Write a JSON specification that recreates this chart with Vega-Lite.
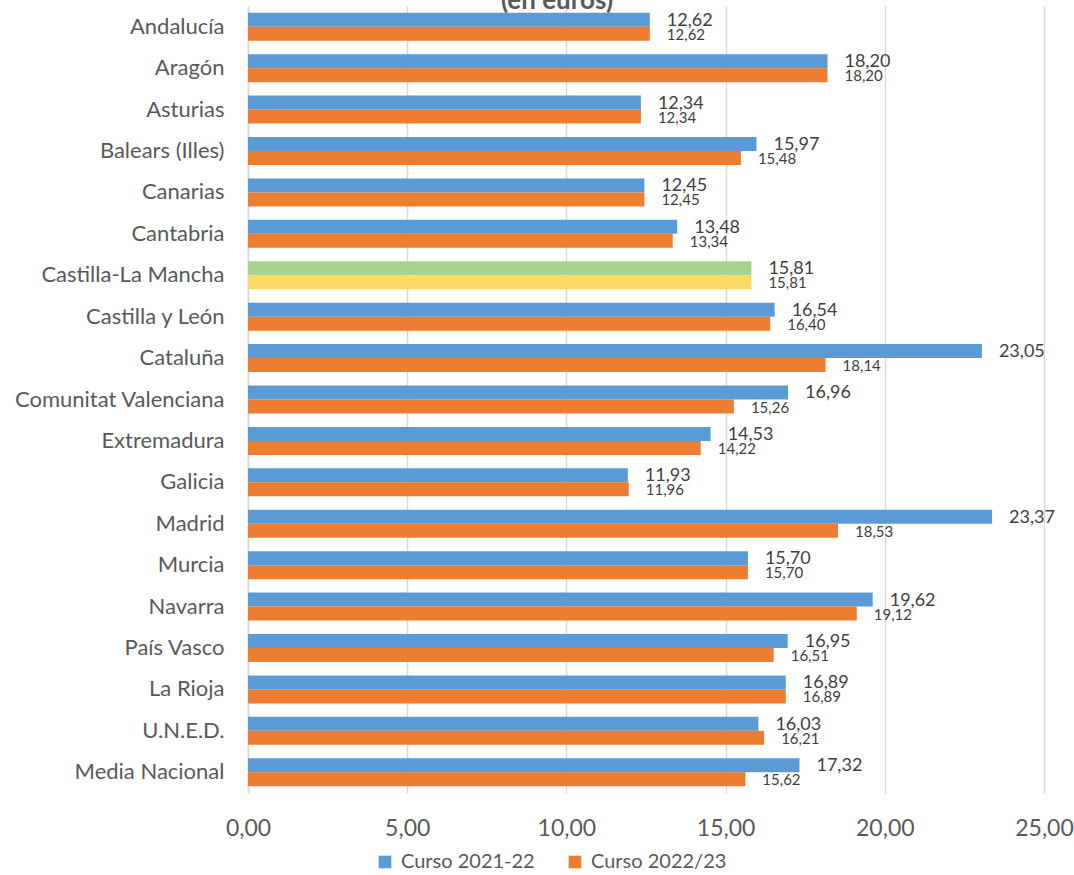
{
  "$schema": "https://vega.github.io/schema/vega-lite/v6.json",
  "autosize": {"type": "none"},
  "width": 796,
  "height": 787,
  "padding": {"left": 248, "top": 6, "right": 30, "bottom": 82},
  "background": "white",
  "config": {
    "locale": {"number": {"decimal": ",", "thousands": ".", "grouping": [3], "currency": ["", " €"]}},
    "font": "Lato",
    "view": {"stroke": null}
  },
  "title": {
    "text": "(en euros)",
    "fontSize": 26,
    "fontWeight": "bold",
    "color": "#595959",
    "anchor": "middle",
    "frame": "group",
    "dx": -89,
    "offset": -8
  },
  "data": {
    "values": [
      {"region": "Andalucía", "curso": "Curso 2021-22", "valor": 12.62},
      {"region": "Andalucía", "curso": "Curso 2022/23", "valor": 12.62},
      {"region": "Aragón", "curso": "Curso 2021-22", "valor": 18.20},
      {"region": "Aragón", "curso": "Curso 2022/23", "valor": 18.20},
      {"region": "Asturias", "curso": "Curso 2021-22", "valor": 12.34},
      {"region": "Asturias", "curso": "Curso 2022/23", "valor": 12.34},
      {"region": "Balears (Illes)", "curso": "Curso 2021-22", "valor": 15.97},
      {"region": "Balears (Illes)", "curso": "Curso 2022/23", "valor": 15.48},
      {"region": "Canarias", "curso": "Curso 2021-22", "valor": 12.45},
      {"region": "Canarias", "curso": "Curso 2022/23", "valor": 12.45},
      {"region": "Cantabria", "curso": "Curso 2021-22", "valor": 13.48},
      {"region": "Cantabria", "curso": "Curso 2022/23", "valor": 13.34},
      {"region": "Castilla-La Mancha", "curso": "Curso 2021-22", "valor": 15.81},
      {"region": "Castilla-La Mancha", "curso": "Curso 2022/23", "valor": 15.81},
      {"region": "Castilla y León", "curso": "Curso 2021-22", "valor": 16.54},
      {"region": "Castilla y León", "curso": "Curso 2022/23", "valor": 16.40},
      {"region": "Cataluña", "curso": "Curso 2021-22", "valor": 23.05},
      {"region": "Cataluña", "curso": "Curso 2022/23", "valor": 18.14},
      {"region": "Comunitat Valenciana", "curso": "Curso 2021-22", "valor": 16.96},
      {"region": "Comunitat Valenciana", "curso": "Curso 2022/23", "valor": 15.26},
      {"region": "Extremadura", "curso": "Curso 2021-22", "valor": 14.53},
      {"region": "Extremadura", "curso": "Curso 2022/23", "valor": 14.22},
      {"region": "Galicia", "curso": "Curso 2021-22", "valor": 11.93},
      {"region": "Galicia", "curso": "Curso 2022/23", "valor": 11.96},
      {"region": "Madrid", "curso": "Curso 2021-22", "valor": 23.37},
      {"region": "Madrid", "curso": "Curso 2022/23", "valor": 18.53},
      {"region": "Murcia", "curso": "Curso 2021-22", "valor": 15.70},
      {"region": "Murcia", "curso": "Curso 2022/23", "valor": 15.70},
      {"region": "Navarra", "curso": "Curso 2021-22", "valor": 19.62},
      {"region": "Navarra", "curso": "Curso 2022/23", "valor": 19.12},
      {"region": "País Vasco", "curso": "Curso 2021-22", "valor": 16.95},
      {"region": "País Vasco", "curso": "Curso 2022/23", "valor": 16.51},
      {"region": "La Rioja", "curso": "Curso 2021-22", "valor": 16.89},
      {"region": "La Rioja", "curso": "Curso 2022/23", "valor": 16.89},
      {"region": "U.N.E.D.", "curso": "Curso 2021-22", "valor": 16.03},
      {"region": "U.N.E.D.", "curso": "Curso 2022/23", "valor": 16.21},
      {"region": "Media Nacional", "curso": "Curso 2021-22", "valor": 17.32},
      {"region": "Media Nacional", "curso": "Curso 2022/23", "valor": 15.62}
    ]
  },
  "encoding": {
    "y": {
      "field": "region",
      "type": "nominal",
      "sort": null,
      "scale": {"paddingInner": 0.324, "paddingOuter": 0.162},
      "axis": {
        "title": null,
        "ticks": false,
        "domain": true,
        "domainColor": "#D9D9D9",
        "domainWidth": 1.5,
        "labelFontSize": 22,
        "labelColor": "#595959",
        "labelPadding": 24,
        "labelLimit": 400,
        "grid": false
      }
    },
    "yOffset": {"field": "curso", "type": "nominal", "scale": {"paddingInner": 0, "paddingOuter": 0}},
    "x": {
      "field": "valor",
      "type": "quantitative",
      "scale": {"domain": [0, 25], "nice": false},
      "axis": {
        "title": null,
        "format": ".2f",
        "values": [0, 5, 10, 15, 20, 25],
        "ticks": false,
        "domain": false,
        "grid": true,
        "gridColor": "#D9D9D9",
        "gridWidth": 1.5,
        "labelFlush": false,
        "labelFontSize": 23,
        "labelColor": "#595959",
        "labelPadding": 24
      }
    }
  },
  "layer": [
    {
      "mark": {"type": "bar"},
      "encoding": {
        "color": {
          "condition": [
            {"test": "datum.region === 'Castilla-La Mancha' && datum.curso === 'Curso 2021-22'", "value": "#A9D18E"},
            {"test": "datum.region === 'Castilla-La Mancha'", "value": "#FFD966"}
          ],
          "field": "curso",
          "type": "nominal",
          "scale": {"domain": ["Curso 2021-22", "Curso 2022/23"], "range": ["#5B9BD5", "#ED7D31"]},
          "legend": {
            "title": null,
            "orient": "none",
            "direction": "horizontal",
            "legendX": 127,
            "legendY": 846,
            "symbolType": "square",
            "symbolSize": 160,
            "symbolStrokeWidth": 0,
            "labelFontSize": 20,
            "labelColor": "#595959",
            "columnPadding": 30,
            "labelOffset": 6,
            "padding": 0
          }
        }
      }
    },
    {
      "transform": [{"filter": "datum.curso === 'Curso 2021-22'"}],
      "mark": {"type": "text", "align": "left", "baseline": "middle", "dx": 17, "dy": 1, "fontSize": 18, "color": "#404040"},
      "encoding": {"text": {"field": "valor", "type": "quantitative", "format": ".2f"}}
    },
    {
      "transform": [{"filter": "datum.curso === 'Curso 2022/23'"}],
      "mark": {"type": "text", "align": "left", "baseline": "middle", "dx": 17, "dy": 1, "fontSize": 15, "color": "#404040"},
      "encoding": {"text": {"field": "valor", "type": "quantitative", "format": ".2f"}}
    }
  ]
}
